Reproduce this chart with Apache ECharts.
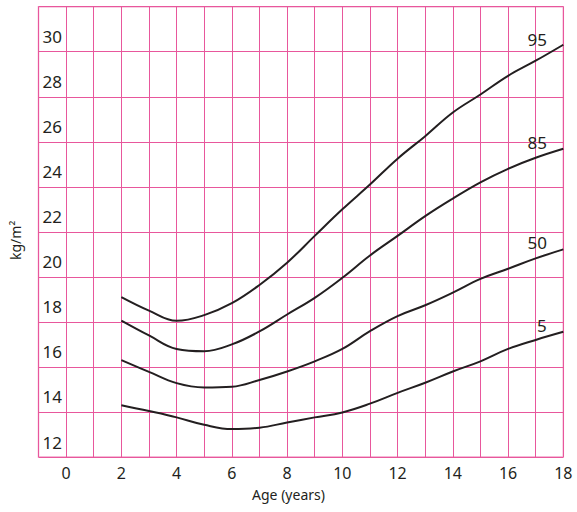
<!DOCTYPE html>
<html>
<head>
<meta charset="utf-8">
<script src="https://cdn.jsdelivr.net/npm/echarts@6/dist/echarts.min.js"></script>
<style>
html,body{margin:0;padding:0;background:#fff;}
#chart{width:577px;height:512px;}
</style>
</head>
<body>
<div id="chart"></div>
<script>
var ages = [2,3,4,5,6,7,8,9,10,11,12,13,14,15,16,17,18];
var p95 = [19.1,18.5,18.05,18.3,18.83,19.64,20.63,21.82,23.0,24.1,25.25,26.25,27.3,28.1,28.93,29.6,30.31];
var p85 = [18.06,17.4,16.8,16.7,17.0,17.58,18.33,19.07,19.96,20.95,21.82,22.7,23.48,24.2,24.8,25.29,25.69];
var p50 = [16.3,15.78,15.28,15.09,15.12,15.42,15.8,16.25,16.8,17.59,18.26,18.74,19.3,19.91,20.36,20.82,21.22];
var p5  = [14.3,14.04,13.76,13.43,13.24,13.3,13.53,13.76,13.98,14.37,14.85,15.3,15.8,16.25,16.8,17.2,17.56];
var seriesNames = ['95','85','50','5'];
var xTickLabels = [0,2,4,6,8,10,12,14,16,18];
var yTickLabels = [12,14,16,18,20,22,24,26,28,30];
var xTitle = 'Age (years)';
var yTitle = 'kg/m\u00b2';

var FONT = "'Noto Sans', sans-serif";
var TXT = '#231f20';
var PINK = '#e8579c';

function build(vals, name, off) {
  return vals.map(function (v, i) {
    var item = { value: [ages[i], v] };
    if (i === vals.length - 1) {
      item.label = {
        show: true, formatter: name, position: 'inside',
        offset: off, color: TXT, fontSize: 17, fontFamily: FONT
      };
    }
    return item;
  });
}
var offs = [[-26,-5],[-26,-6],[-26,-6.5],[-21.5,-6]];
var allVals = [p95,p85,p50,p5];

var chart = echarts.init(document.getElementById('chart'), null, {renderer:'svg'});
chart.setOption({
  animation: false,
  backgroundColor: '#fff',
  grid: { left: 38.5, right: 13.7, top: 6.7, bottom: 55, show: true, borderColor: '#f2a3c9', borderWidth: 1.5, containLabel: false },
  xAxis: {
    type: 'value', min: -1, max: 18, interval: 1,
    axisLine: { show: false }, axisTick: { show: false },
    splitLine: { show: true, lineStyle: { color: PINK, width: 1, opacity: 1, type: 'solid' } },
    axisLabel: {
      margin: 8, color: TXT, fontSize: 16, fontFamily: FONT,
      formatter: function (v) { return xTickLabels.indexOf(v) >= 0 ? String(v) : ''; }
    }
  },
  yAxis: {
    type: 'value', min: 12, max: 32, interval: 2,
    axisLine: { show: false }, axisTick: { show: false },
    splitLine: { show: true, lineStyle: { color: PINK, width: 1, opacity: 1, type: 'solid' } },
    axisLabel: {
      inside: true, align: 'left', verticalAlign: 'bottom', lineHeight: 30, margin: 4,
      color: TXT, fontSize: 17, fontFamily: FONT,
      formatter: function (v) { return yTickLabels.indexOf(v) >= 0 ? String(v) : ''; }
    }
  },
  graphic: [
    { type: 'text', left: 'center', top: 487, style: { text: xTitle, fill: TXT, font: "14px 'Noto Sans', sans-serif" }, x: 10 },
    { type: 'text', rotation: Math.PI / 2, x: 8, y: 260, style: { text: yTitle, fill: TXT, font: "14px 'Noto Sans', sans-serif", textVerticalAlign: 'top' } }
  ],
  series: allVals.map(function (vals, k) {
    return {
      type: 'line', name: seriesNames[k], data: build(vals, seriesNames[k], offs[k]),
      smooth: 0.4, showSymbol: true, symbol: 'circle', symbolSize: 0, silent: true,
      lineStyle: { color: TXT, width: 2 }, itemStyle: { color: TXT },
      z: 5
    };
  })
});
</script>
</body>
</html>
